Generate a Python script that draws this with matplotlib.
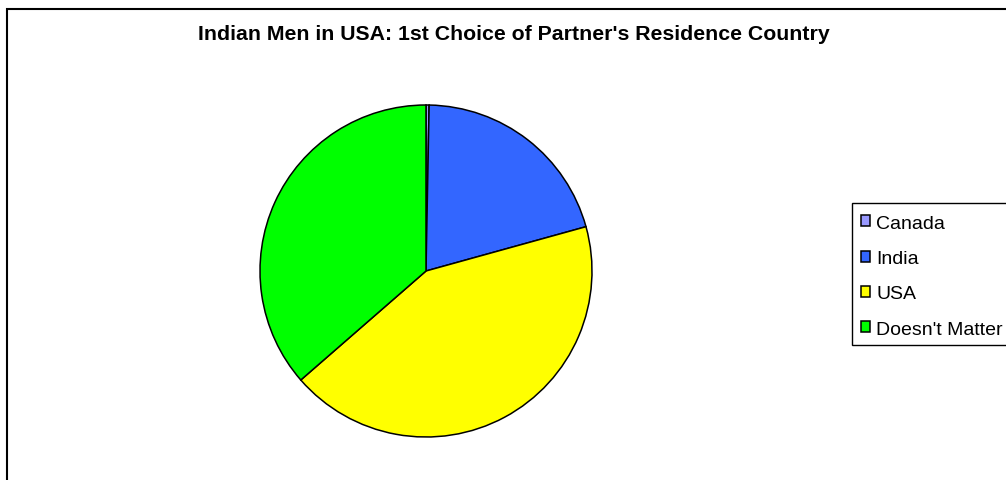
import matplotlib
matplotlib.use("Agg")
import matplotlib.pyplot as plt
from matplotlib.patches import Rectangle

plt.rcParams["font.family"] = ["Liberation Sans", "DejaVu Sans"]

# data
labels = ["Canada", "India", "USA", "Doesn't Matter"]
shares = [0.3, 20.4, 42.9, 36.4]
colors = ["#9999FF", "#3366FF", "#FFFF00", "#00FF00"]
title = "Indian Men in USA: 1st Choice of Partner's Residence Country"

W, H = 1006, 481
fig = plt.figure(figsize=(W / 100, H / 100), dpi=100)

# outer chart frame (runs off the right and bottom edges)
fig.patches.append(Rectangle((6.5 / W, -0.1), 1.2, 1.1 - 9.5 / H,
                             transform=fig.transFigure, fill=False,
                             edgecolor="black", linewidth=1.5))

cx, cy, r = 426, 272, 166
ax = fig.add_axes([(cx - r) / W, (H - cy - r) / H, 2 * r / W, 2 * r / H])
wedges, _ = ax.pie(shares, colors=colors, startangle=90, counterclock=False,
                   radius=1.0,
                   wedgeprops=dict(edgecolor="black", linewidth=1.1))
ax.set_xlim(-1.0, 1.0)
ax.set_ylim(-1.0, 1.0)
ax.set_aspect("equal")
ax.axis("off")

fig.text(514 / W, 1 - 35 / H, title, ha="center", va="center",
         fontsize=15.3, fontweight="bold")

# legend box, cut off by the right edge like the reference
fig.patches.append(Rectangle((851.5 / W, 1 - 345.5 / H), 0.3, 142 / H,
                             transform=fig.transFigure, facecolor="white",
                             edgecolor="black", linewidth=1.0))
leg = fig.legend(wedges, labels, loc="upper left",
                 bbox_to_anchor=(852 / W, 1 - 207 / H), borderaxespad=0,
                 frameon=False, fontsize=14, handlelength=0.5,
                 handleheight=0.5, handletextpad=0.3, labelspacing=0.94,
                 borderpad=0.45)

fig.savefig("out.png", dpi=100)
